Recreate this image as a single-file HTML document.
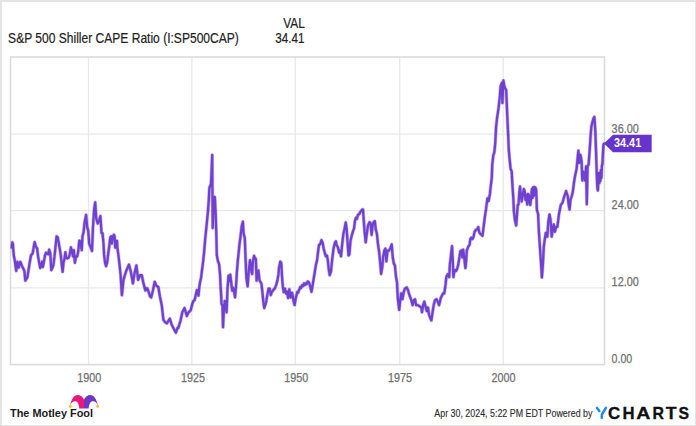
<!DOCTYPE html>
<html><head><meta charset="utf-8"><style>
html,body{margin:0;padding:0;background:#fff;}
body{width:696px;height:426px;overflow:hidden;}
svg{display:block;}
text{font-family:"Liberation Sans",sans-serif;}
</style></head><body>
<svg width="696" height="426" viewBox="0 0 696 426">
<rect x="0" y="0" width="696" height="426" fill="#fff"/>
<rect x="0" y="0" width="696" height="2" fill="#e4e4e4"/>
<rect x="0" y="0" width="2" height="426" fill="#e4e4e4"/>
<rect x="695" y="0" width="1" height="426" fill="#e4e4e4"/>
<rect x="0" y="425" width="696" height="1" fill="#e4e4e4"/>
<g fill="#222" stroke="#222" stroke-width="0.2" font-size="14.8">
<text x="283.2" y="27.5" textLength="21.6" lengthAdjust="spacingAndGlyphs">VAL</text>
<text x="275.2" y="43.3" textLength="29.2" lengthAdjust="spacingAndGlyphs">34.41</text>
<text x="8.1" y="43.3" textLength="230.7" lengthAdjust="spacingAndGlyphs">S&amp;P 500 Shiller CAPE Ratio (I:SP500CAP)</text>
</g>
<g stroke="#e8e8e8" stroke-width="1.3" fill="none">
<line x1="10" y1="134.1" x2="604" y2="134.1"/>
<line x1="10" y1="210.6" x2="604" y2="210.6"/>
<line x1="10" y1="287.8" x2="604" y2="287.8"/>
<line x1="88.5" y1="57" x2="88.5" y2="364"/>
<line x1="191.85" y1="57" x2="191.85" y2="364"/>
<line x1="295.3" y1="57" x2="295.3" y2="364"/>
<line x1="399.75" y1="57" x2="399.75" y2="364"/>
<line x1="503.2" y1="57" x2="503.2" y2="364"/>
</g>
<rect x="10.5" y="57" width="594" height="307.6" fill="none" stroke="#d9d9d9" stroke-width="1.5"/>
<g fill="#707070" stroke="#707070" stroke-width="0.25" font-size="12">
<text x="611.6" y="132.6" textLength="27.2" lengthAdjust="spacingAndGlyphs">36.00</text>
<text x="611.6" y="209.2" textLength="27.2" lengthAdjust="spacingAndGlyphs">24.00</text>
<text x="611.6" y="286.4" textLength="27.2" lengthAdjust="spacingAndGlyphs">12.00</text>
<text x="611.6" y="362.8" textLength="20.6" lengthAdjust="spacingAndGlyphs">0.00</text>
<text x="77.2" y="381.8" textLength="24" lengthAdjust="spacingAndGlyphs">1900</text>
<text x="180.9" y="381.8" textLength="24" lengthAdjust="spacingAndGlyphs">1925</text>
<text x="284.3" y="381.8" textLength="24" lengthAdjust="spacingAndGlyphs">1950</text>
<text x="388" y="381.8" textLength="24" lengthAdjust="spacingAndGlyphs">1975</text>
<text x="491.5" y="381.8" textLength="24" lengthAdjust="spacingAndGlyphs">2000</text>
</g>
<path d="M11.8 247.5 L12.3 242.3 L12.9 244.0 L13.3 250.0 L13.9 256.0 L14.8 260.5 L16.2 270.9 L17.4 261.8 L18.7 267.6 L20.3 261.8 L22.0 266.0 L24.4 270.9 L25.3 280.7 L27.4 277.4 L29.4 264.3 L31.0 255.3 L32.6 253.6 L34.6 242.1 L36.0 246.9 L37.1 248.5 L38.1 256.4 L39.2 262.8 L40.2 268.0 L41.3 264.9 L42.1 261.7 L42.9 267.0 L43.9 261.7 L45.0 255.4 L46.0 252.7 L47.1 253.8 L48.2 254.3 L49.2 249.6 L50.3 253.3 L51.3 270.2 L52.4 268.0 L53.4 264.9 L54.5 256.4 L55.6 245.9 L56.6 236.3 L57.7 237.4 L58.7 242.7 L59.8 249.0 L60.8 255.4 L61.9 265.9 L62.6 271.8 L63.5 262.8 L64.5 258.5 L65.4 252.2 L66.1 257.5 L67.2 258.5 L68.8 257.5 L69.8 254.3 L70.9 247.4 L71.9 251.1 L73.0 256.4 L73.8 250.1 L74.9 262.8 L76.0 256.4 L77.2 256.4 L78.3 251.1 L79.3 240.6 L80.4 241.6 L81.7 250.1 L82.5 236.3 L83.6 232.1 L84.6 222.5 L86.1 215.0 L87.1 226.7 L88.2 230.9 L89.2 243.6 L90.9 247.8 L92.0 251.0 L93.0 226.7 L94.1 209.8 L95.2 202.4 L96.2 218.2 L97.7 223.5 L99.2 220.4 L100.4 216.1 L101.5 233.0 L102.5 233.2 L103.5 243.5 L104.1 254.9 L105.1 263.1 L106.1 266.2 L107.2 262.1 L108.2 253.8 L109.2 246.6 L110.3 237.3 L111.3 236.3 L111.8 243.5 L112.8 237.3 L113.9 234.7 L114.6 236.3 L115.2 247.6 L115.9 240.9 L117.0 240.9 L117.5 248.7 L118.5 255.9 L119.6 265.2 L120.6 275.0 L121.9 295.2 L123.5 279.9 L125.9 271.7 L128.9 264.6 L130.6 270.5 L132.9 283.4 L134.6 272.9 L136.4 265.4 L138.1 279.9 L140.0 275.2 L141.8 275.2 L143.5 283.4 L145.4 290.5 L147.0 288.1 L148.2 290.5 L150.0 296.3 L151.2 297.5 L152.9 290.5 L154.7 281.8 L156.4 285.8 L158.3 287.0 L159.9 296.3 L161.8 305.7 L163.4 319.8 L165.1 322.2 L166.9 323.3 L169.8 318.6 L171.6 324.5 L174.0 329.2 L175.9 332.7 L177.5 328.0 L178.2 328.2 L180.3 321.5 L182.4 312.0 L184.5 308.0 L186.8 316.0 L188.4 312.6 L190.7 310.3 L192.3 304.0 L193.4 301.0 L194.6 300.2 L195.8 294.8 L196.9 290.1 L197.7 292.5 L198.5 295.6 L199.3 287.0 L200.0 282.4 L201.1 277.7 L202.0 270.0 L202.5 266.9 L203.9 254.2 L205.3 238.0 L206.6 225.1 L207.9 212.2 L208.8 200.0 L209.4 188.0 L211.0 184.0 L212.2 155.0 L212.7 228.0 L213.8 199.0 L214.8 197.0 L215.6 212.0 L216.2 230.0 L216.8 255.0 L217.8 260.6 L219.1 264.4 L220.0 273.8 L220.6 286.9 L221.1 294.4 L221.5 303.8 L222.5 305.7 L223.0 327.3 L223.8 311.3 L224.7 301.0 L225.6 305.7 L226.6 312.3 L227.5 288.8 L228.5 275.7 L229.4 281.3 L230.3 274.7 L231.3 283.2 L232.2 290.7 L233.2 287.9 L234.1 291.6 L235.0 297.3 L236.0 286.9 L236.9 271.9 L237.8 260.6 L238.4 255.0 L239.4 245.2 L240.6 235.8 L241.7 226.4 L242.9 221.7 L243.6 233.5 L244.8 238.2 L245.5 256.9 L246.4 278.1 L247.6 286.3 L248.8 271.0 L250.0 260.2 L251.5 271.8 L252.2 274.0 L252.9 261.6 L254.1 255.8 L255.1 258.7 L255.8 258.7 L256.6 280.6 L257.6 271.8 L258.4 270.4 L259.5 280.6 L260.5 282.0 L261.4 283.5 L262.4 292.2 L263.4 302.4 L264.3 308.0 L265.3 305.0 L266.3 301.0 L267.5 293.7 L268.6 288.6 L269.7 288.6 L270.7 295.1 L271.8 292.2 L273.3 290.0 L274.7 288.6 L276.2 284.9 L277.4 280.6 L278.4 274.7 L279.1 267.5 L280.3 261.6 L281.3 263.1 L282.0 276.2 L282.8 286.4 L283.8 292.2 L284.9 288.6 L286.1 293.7 L287.1 291.5 L288.1 298.0 L289.3 289.3 L290.8 297.5 L292.1 292.8 L293.6 301.2 L294.6 305.0 L295.9 297.5 L297.4 291.8 L298.3 292.5 L298.9 290.2 L299.6 289.0 L300.2 287.0 L301.0 288.0 L302.1 285.3 L303.0 286.0 L304.0 283.4 L304.9 285.0 L305.8 283.4 L306.7 284.0 L307.7 281.5 L309.0 282.5 L310.2 286.2 L311.5 291.8 L312.8 284.3 L314.3 274.9 L315.8 265.6 L317.1 259.9 L318.0 252.4 L319.0 244.9 L320.3 244.0 L321.4 240.2 L322.7 243.0 L323.7 248.7 L325.2 254.3 L325.9 256.3 L326.9 255.4 L327.8 260.1 L328.8 269.5 L329.7 275.1 L331.0 271.4 L332.1 260.1 L333.5 248.8 L334.8 243.2 L335.9 241.3 L336.6 245.1 L337.8 247.0 L339.1 252.6 L340.0 250.7 L341.0 256.3 L342.3 243.2 L343.4 233.8 L344.7 228.2 L345.7 222.5 L346.6 228.2 L347.5 241.3 L348.5 255.4 L349.4 254.5 L350.4 241.3 L351.7 235.7 L352.8 231.9 L354.1 228.2 L355.0 220.7 L356.0 217.8 L356.9 218.8 L357.9 215.0 L359.2 214.1 L360.3 212.2 L361.6 210.3 L362.6 209.4 L363.0 209.5 L363.8 221.1 L364.6 231.7 L365.7 242.3 L366.8 233.8 L368.0 225.4 L369.5 222.2 L370.6 223.2 L371.6 234.9 L372.7 225.4 L373.7 222.2 L374.8 221.1 L375.8 229.6 L376.9 233.8 L378.0 244.4 L379.0 250.7 L380.1 261.3 L381.1 273.9 L382.2 267.6 L383.2 257.0 L384.3 250.7 L385.4 248.6 L386.4 261.3 L387.5 250.7 L388.9 250.7 L390.6 247.5 L391.7 244.4 L392.7 257.0 L393.8 263.4 L394.9 265.5 L395.9 276.1 L397.0 282.4 L397.8 298.1 L399.2 309.8 L400.2 300.4 L401.3 293.4 L402.5 299.2 L403.7 292.2 L404.9 288.7 L406.7 287.5 L407.9 289.9 L409.6 295.7 L411.4 300.4 L412.6 305.1 L413.8 300.4 L415.0 299.2 L416.1 305.1 L417.8 305.1 L419.6 306.3 L421.3 307.5 L422.0 312.2 L423.2 305.1 L424.3 301.6 L425.5 306.3 L426.7 311.0 L427.9 307.5 L429.0 314.5 L430.2 318.0 L431.4 320.4 L432.6 312.2 L433.7 305.1 L434.9 300.4 L436.5 299.2 L437.7 301.6 L439.1 305.1 L440.8 298.1 L441.9 295.7 L443.1 293.4 L444.3 293.4 L445.6 284.2 L446.3 277.1 L447.7 274.3 L449.2 277.1 L449.9 264.4 L450.6 258.8 L452.0 246.1 L452.7 258.8 L453.4 277.1 L454.1 272.9 L455.2 270.1 L456.2 270.8 L457.2 268.7 L458.3 264.4 L459.4 257.4 L460.4 251.1 L461.4 250.4 L462.3 257.4 L463.2 249.6 L464.2 257.4 L465.4 268.0 L466.1 261.6 L466.8 250.4 L468.2 246.8 L469.6 244.7 L470.3 239.1 L471.3 237.7 L472.4 239.1 L473.5 237.0 L474.5 232.0 L475.9 229.9 L477.3 229.2 L478.3 227.1 L479.2 232.0 L480.0 233.5 L481.0 234.5 L482.5 235.8 L483.6 226.8 L484.9 216.5 L486.1 208.7 L487.4 198.4 L488.7 201.0 L490.0 193.2 L490.8 185.5 L491.8 177.7 L492.2 165.5 L493.3 155.2 L494.3 152.6 L495.3 142.3 L496.1 126.8 L497.0 118.5 L498.5 108.6 L499.9 95.9 L500.6 86.1 L502.0 82.6 L502.4 103.0 L503.4 80.5 L504.1 84.7 L504.8 87.5 L506.2 90.3 L506.6 100.2 L507.2 114.3 L508.0 131.2 L508.8 150.0 L509.5 157.8 L510.6 169.0 L511.7 171.2 L512.4 184.6 L513.3 198.0 L513.9 211.4 L515.0 220.3 L516.2 225.5 L517.2 212.0 L517.8 205.0 L518.5 204.5 L519.3 193.0 L520.0 186.5 L520.9 195.0 L521.6 201.5 L522.3 198.0 L523.1 193.0 L523.8 189.0 L524.7 191.5 L525.5 200.0 L526.4 195.0 L527.2 204.5 L528.0 194.0 L528.9 195.0 L529.4 202.5 L530.2 205.0 L531.0 199.0 L531.9 189.0 L532.5 198.0 L533.0 187.5 L533.6 196.0 L534.2 187.0 L534.8 195.0 L535.3 187.5 L536.1 189.5 L536.5 198.3 L536.9 210.0 L538.1 214.0 L538.9 231.8 L539.9 246.6 L540.9 261.3 L541.9 277.4 L542.9 263.8 L543.8 246.6 L544.8 239.2 L545.8 233.0 L546.3 235.5 L547.3 236.7 L548.3 221.9 L549.5 214.5 L550.5 219.4 L551.7 236.7 L552.7 229.3 L553.7 224.4 L554.9 231.8 L556.2 226.8 L557.4 226.8 L558.6 217.0 L559.0 214.0 L560.8 205.1 L562.6 202.5 L564.3 196.3 L566.1 191.0 L567.8 196.3 L568.7 205.1 L569.6 209.5 L570.5 199.9 L571.7 196.3 L572.8 192.0 L574.0 182.3 L575.2 175.2 L576.6 169.0 L577.5 159.4 L578.4 150.6 L579.3 162.9 L580.5 155.0 L581.6 161.1 L582.3 180.5 L583.3 171.7 L584.2 175.2 L585.1 180.5 L586.1 166.4 L586.8 204.3 L587.6 166.4 L588.6 164.6 L589.7 150.0 L590.6 135.8 L591.4 126.4 L592.3 122.9 L593.5 118.2 L594.4 117.0 L595.3 131.0 L596.0 150.0 L596.5 166.0 L596.9 178.0 L597.4 189.0 L597.9 190.5 L598.4 181.0 L598.9 173.0 L599.4 183.0 L599.9 176.0 L600.4 181.0 L600.9 170.0 L601.4 178.0 L601.9 166.0 L602.4 164.0 L602.9 154.0 L603.4 145.0 L604.1 143.6" fill="none" stroke="#6633cc" stroke-opacity="0.35" stroke-width="3.6" stroke-linejoin="round" stroke-linecap="round"/>
<path d="M11.8 247.5 L12.3 242.3 L12.9 244.0 L13.3 250.0 L13.9 256.0 L14.8 260.5 L16.2 270.9 L17.4 261.8 L18.7 267.6 L20.3 261.8 L22.0 266.0 L24.4 270.9 L25.3 280.7 L27.4 277.4 L29.4 264.3 L31.0 255.3 L32.6 253.6 L34.6 242.1 L36.0 246.9 L37.1 248.5 L38.1 256.4 L39.2 262.8 L40.2 268.0 L41.3 264.9 L42.1 261.7 L42.9 267.0 L43.9 261.7 L45.0 255.4 L46.0 252.7 L47.1 253.8 L48.2 254.3 L49.2 249.6 L50.3 253.3 L51.3 270.2 L52.4 268.0 L53.4 264.9 L54.5 256.4 L55.6 245.9 L56.6 236.3 L57.7 237.4 L58.7 242.7 L59.8 249.0 L60.8 255.4 L61.9 265.9 L62.6 271.8 L63.5 262.8 L64.5 258.5 L65.4 252.2 L66.1 257.5 L67.2 258.5 L68.8 257.5 L69.8 254.3 L70.9 247.4 L71.9 251.1 L73.0 256.4 L73.8 250.1 L74.9 262.8 L76.0 256.4 L77.2 256.4 L78.3 251.1 L79.3 240.6 L80.4 241.6 L81.7 250.1 L82.5 236.3 L83.6 232.1 L84.6 222.5 L86.1 215.0 L87.1 226.7 L88.2 230.9 L89.2 243.6 L90.9 247.8 L92.0 251.0 L93.0 226.7 L94.1 209.8 L95.2 202.4 L96.2 218.2 L97.7 223.5 L99.2 220.4 L100.4 216.1 L101.5 233.0 L102.5 233.2 L103.5 243.5 L104.1 254.9 L105.1 263.1 L106.1 266.2 L107.2 262.1 L108.2 253.8 L109.2 246.6 L110.3 237.3 L111.3 236.3 L111.8 243.5 L112.8 237.3 L113.9 234.7 L114.6 236.3 L115.2 247.6 L115.9 240.9 L117.0 240.9 L117.5 248.7 L118.5 255.9 L119.6 265.2 L120.6 275.0 L121.9 295.2 L123.5 279.9 L125.9 271.7 L128.9 264.6 L130.6 270.5 L132.9 283.4 L134.6 272.9 L136.4 265.4 L138.1 279.9 L140.0 275.2 L141.8 275.2 L143.5 283.4 L145.4 290.5 L147.0 288.1 L148.2 290.5 L150.0 296.3 L151.2 297.5 L152.9 290.5 L154.7 281.8 L156.4 285.8 L158.3 287.0 L159.9 296.3 L161.8 305.7 L163.4 319.8 L165.1 322.2 L166.9 323.3 L169.8 318.6 L171.6 324.5 L174.0 329.2 L175.9 332.7 L177.5 328.0 L178.2 328.2 L180.3 321.5 L182.4 312.0 L184.5 308.0 L186.8 316.0 L188.4 312.6 L190.7 310.3 L192.3 304.0 L193.4 301.0 L194.6 300.2 L195.8 294.8 L196.9 290.1 L197.7 292.5 L198.5 295.6 L199.3 287.0 L200.0 282.4 L201.1 277.7 L202.0 270.0 L202.5 266.9 L203.9 254.2 L205.3 238.0 L206.6 225.1 L207.9 212.2 L208.8 200.0 L209.4 188.0 L211.0 184.0 L212.2 155.0 L212.7 228.0 L213.8 199.0 L214.8 197.0 L215.6 212.0 L216.2 230.0 L216.8 255.0 L217.8 260.6 L219.1 264.4 L220.0 273.8 L220.6 286.9 L221.1 294.4 L221.5 303.8 L222.5 305.7 L223.0 327.3 L223.8 311.3 L224.7 301.0 L225.6 305.7 L226.6 312.3 L227.5 288.8 L228.5 275.7 L229.4 281.3 L230.3 274.7 L231.3 283.2 L232.2 290.7 L233.2 287.9 L234.1 291.6 L235.0 297.3 L236.0 286.9 L236.9 271.9 L237.8 260.6 L238.4 255.0 L239.4 245.2 L240.6 235.8 L241.7 226.4 L242.9 221.7 L243.6 233.5 L244.8 238.2 L245.5 256.9 L246.4 278.1 L247.6 286.3 L248.8 271.0 L250.0 260.2 L251.5 271.8 L252.2 274.0 L252.9 261.6 L254.1 255.8 L255.1 258.7 L255.8 258.7 L256.6 280.6 L257.6 271.8 L258.4 270.4 L259.5 280.6 L260.5 282.0 L261.4 283.5 L262.4 292.2 L263.4 302.4 L264.3 308.0 L265.3 305.0 L266.3 301.0 L267.5 293.7 L268.6 288.6 L269.7 288.6 L270.7 295.1 L271.8 292.2 L273.3 290.0 L274.7 288.6 L276.2 284.9 L277.4 280.6 L278.4 274.7 L279.1 267.5 L280.3 261.6 L281.3 263.1 L282.0 276.2 L282.8 286.4 L283.8 292.2 L284.9 288.6 L286.1 293.7 L287.1 291.5 L288.1 298.0 L289.3 289.3 L290.8 297.5 L292.1 292.8 L293.6 301.2 L294.6 305.0 L295.9 297.5 L297.4 291.8 L298.3 292.5 L298.9 290.2 L299.6 289.0 L300.2 287.0 L301.0 288.0 L302.1 285.3 L303.0 286.0 L304.0 283.4 L304.9 285.0 L305.8 283.4 L306.7 284.0 L307.7 281.5 L309.0 282.5 L310.2 286.2 L311.5 291.8 L312.8 284.3 L314.3 274.9 L315.8 265.6 L317.1 259.9 L318.0 252.4 L319.0 244.9 L320.3 244.0 L321.4 240.2 L322.7 243.0 L323.7 248.7 L325.2 254.3 L325.9 256.3 L326.9 255.4 L327.8 260.1 L328.8 269.5 L329.7 275.1 L331.0 271.4 L332.1 260.1 L333.5 248.8 L334.8 243.2 L335.9 241.3 L336.6 245.1 L337.8 247.0 L339.1 252.6 L340.0 250.7 L341.0 256.3 L342.3 243.2 L343.4 233.8 L344.7 228.2 L345.7 222.5 L346.6 228.2 L347.5 241.3 L348.5 255.4 L349.4 254.5 L350.4 241.3 L351.7 235.7 L352.8 231.9 L354.1 228.2 L355.0 220.7 L356.0 217.8 L356.9 218.8 L357.9 215.0 L359.2 214.1 L360.3 212.2 L361.6 210.3 L362.6 209.4 L363.0 209.5 L363.8 221.1 L364.6 231.7 L365.7 242.3 L366.8 233.8 L368.0 225.4 L369.5 222.2 L370.6 223.2 L371.6 234.9 L372.7 225.4 L373.7 222.2 L374.8 221.1 L375.8 229.6 L376.9 233.8 L378.0 244.4 L379.0 250.7 L380.1 261.3 L381.1 273.9 L382.2 267.6 L383.2 257.0 L384.3 250.7 L385.4 248.6 L386.4 261.3 L387.5 250.7 L388.9 250.7 L390.6 247.5 L391.7 244.4 L392.7 257.0 L393.8 263.4 L394.9 265.5 L395.9 276.1 L397.0 282.4 L397.8 298.1 L399.2 309.8 L400.2 300.4 L401.3 293.4 L402.5 299.2 L403.7 292.2 L404.9 288.7 L406.7 287.5 L407.9 289.9 L409.6 295.7 L411.4 300.4 L412.6 305.1 L413.8 300.4 L415.0 299.2 L416.1 305.1 L417.8 305.1 L419.6 306.3 L421.3 307.5 L422.0 312.2 L423.2 305.1 L424.3 301.6 L425.5 306.3 L426.7 311.0 L427.9 307.5 L429.0 314.5 L430.2 318.0 L431.4 320.4 L432.6 312.2 L433.7 305.1 L434.9 300.4 L436.5 299.2 L437.7 301.6 L439.1 305.1 L440.8 298.1 L441.9 295.7 L443.1 293.4 L444.3 293.4 L445.6 284.2 L446.3 277.1 L447.7 274.3 L449.2 277.1 L449.9 264.4 L450.6 258.8 L452.0 246.1 L452.7 258.8 L453.4 277.1 L454.1 272.9 L455.2 270.1 L456.2 270.8 L457.2 268.7 L458.3 264.4 L459.4 257.4 L460.4 251.1 L461.4 250.4 L462.3 257.4 L463.2 249.6 L464.2 257.4 L465.4 268.0 L466.1 261.6 L466.8 250.4 L468.2 246.8 L469.6 244.7 L470.3 239.1 L471.3 237.7 L472.4 239.1 L473.5 237.0 L474.5 232.0 L475.9 229.9 L477.3 229.2 L478.3 227.1 L479.2 232.0 L480.0 233.5 L481.0 234.5 L482.5 235.8 L483.6 226.8 L484.9 216.5 L486.1 208.7 L487.4 198.4 L488.7 201.0 L490.0 193.2 L490.8 185.5 L491.8 177.7 L492.2 165.5 L493.3 155.2 L494.3 152.6 L495.3 142.3 L496.1 126.8 L497.0 118.5 L498.5 108.6 L499.9 95.9 L500.6 86.1 L502.0 82.6 L502.4 103.0 L503.4 80.5 L504.1 84.7 L504.8 87.5 L506.2 90.3 L506.6 100.2 L507.2 114.3 L508.0 131.2 L508.8 150.0 L509.5 157.8 L510.6 169.0 L511.7 171.2 L512.4 184.6 L513.3 198.0 L513.9 211.4 L515.0 220.3 L516.2 225.5 L517.2 212.0 L517.8 205.0 L518.5 204.5 L519.3 193.0 L520.0 186.5 L520.9 195.0 L521.6 201.5 L522.3 198.0 L523.1 193.0 L523.8 189.0 L524.7 191.5 L525.5 200.0 L526.4 195.0 L527.2 204.5 L528.0 194.0 L528.9 195.0 L529.4 202.5 L530.2 205.0 L531.0 199.0 L531.9 189.0 L532.5 198.0 L533.0 187.5 L533.6 196.0 L534.2 187.0 L534.8 195.0 L535.3 187.5 L536.1 189.5 L536.5 198.3 L536.9 210.0 L538.1 214.0 L538.9 231.8 L539.9 246.6 L540.9 261.3 L541.9 277.4 L542.9 263.8 L543.8 246.6 L544.8 239.2 L545.8 233.0 L546.3 235.5 L547.3 236.7 L548.3 221.9 L549.5 214.5 L550.5 219.4 L551.7 236.7 L552.7 229.3 L553.7 224.4 L554.9 231.8 L556.2 226.8 L557.4 226.8 L558.6 217.0 L559.0 214.0 L560.8 205.1 L562.6 202.5 L564.3 196.3 L566.1 191.0 L567.8 196.3 L568.7 205.1 L569.6 209.5 L570.5 199.9 L571.7 196.3 L572.8 192.0 L574.0 182.3 L575.2 175.2 L576.6 169.0 L577.5 159.4 L578.4 150.6 L579.3 162.9 L580.5 155.0 L581.6 161.1 L582.3 180.5 L583.3 171.7 L584.2 175.2 L585.1 180.5 L586.1 166.4 L586.8 204.3 L587.6 166.4 L588.6 164.6 L589.7 150.0 L590.6 135.8 L591.4 126.4 L592.3 122.9 L593.5 118.2 L594.4 117.0 L595.3 131.0 L596.0 150.0 L596.5 166.0 L596.9 178.0 L597.4 189.0 L597.9 190.5 L598.4 181.0 L598.9 173.0 L599.4 183.0 L599.9 176.0 L600.4 181.0 L600.9 170.0 L601.4 178.0 L601.9 166.0 L602.4 164.0 L602.9 154.0 L603.4 145.0 L604.1 143.6" fill="none" stroke="#6633cc" stroke-opacity="0.9" stroke-width="2.3" stroke-linejoin="round" stroke-linecap="round"/>
<path d="M604 143.5 L613 134.7 L651.7 134.7 L651.7 152.2 L613 152.2 Z" fill="#6633cc"/>
<text x="614" y="146.8" font-size="12" font-weight="bold" fill="#fff" textLength="27.2" lengthAdjust="spacingAndGlyphs">34.41</text>
<text x="434.3" y="417.3" font-size="11" fill="#2e2e2e" stroke="#2e2e2e" stroke-width="0.15" textLength="158.1" lengthAdjust="spacingAndGlyphs">Apr 30, 2024, 5:22 PM EDT Powered by</text>
<g stroke="#1e8cf0" fill="none" stroke-linecap="round">
<line x1="597" y1="407.9" x2="599.3" y2="411" stroke-width="2.5"/>
<path d="M605.9 407.9 L602.6 413.2 Q601.8 414.6 601.8 416 L601.8 417.8" stroke-width="2.6"/>
</g>
<g font-size="16.3" font-weight="bold" fill="#111" stroke="#111" stroke-width="0.3">
<text x="608.1" y="418.6" textLength="12.2" lengthAdjust="spacingAndGlyphs">C</text>
<text x="622.4" y="418.6" textLength="12.1" lengthAdjust="spacingAndGlyphs">H</text>
<text x="636.3" y="418.6" textLength="14.1" lengthAdjust="spacingAndGlyphs">A</text>
<text x="652.4" y="418.6" textLength="11.5" lengthAdjust="spacingAndGlyphs">R</text>
<text x="665.7" y="418.6" textLength="10.8" lengthAdjust="spacingAndGlyphs">T</text>
<text x="678.6" y="418.6" textLength="10.6" lengthAdjust="spacingAndGlyphs">S</text>
</g>
<text x="10" y="416.6" font-size="11.5" font-weight="bold" fill="#1a1a1a" textLength="83" lengthAdjust="spacingAndGlyphs">The Motley Fool</text>
<path d="M70.3 405 C71.5 399 74 395 77.5 395 C80.5 395 82.7 397 84 399.5 L84 408.5 L79.3 408.5 C79 404 77.5 401.3 75 401.3 C72.8 401.3 71.3 403 70.3 405 Z" fill="#e8197a"/>
<path d="M97.7 405 C96.5 399 94 395 90.5 395 C87.5 395 85.3 397 84 399.5 L84 408.5 L88.7 408.5 C89 404 90.5 401.3 93 401.3 C95.2 401.3 96.7 403 97.7 405 Z" fill="#6e38c4"/>
<circle cx="70.3" cy="406.4" r="1.3" fill="#f5b800"/>
<circle cx="97.6" cy="406.4" r="1.3" fill="#f5b800"/>
</svg>
</body></html>
